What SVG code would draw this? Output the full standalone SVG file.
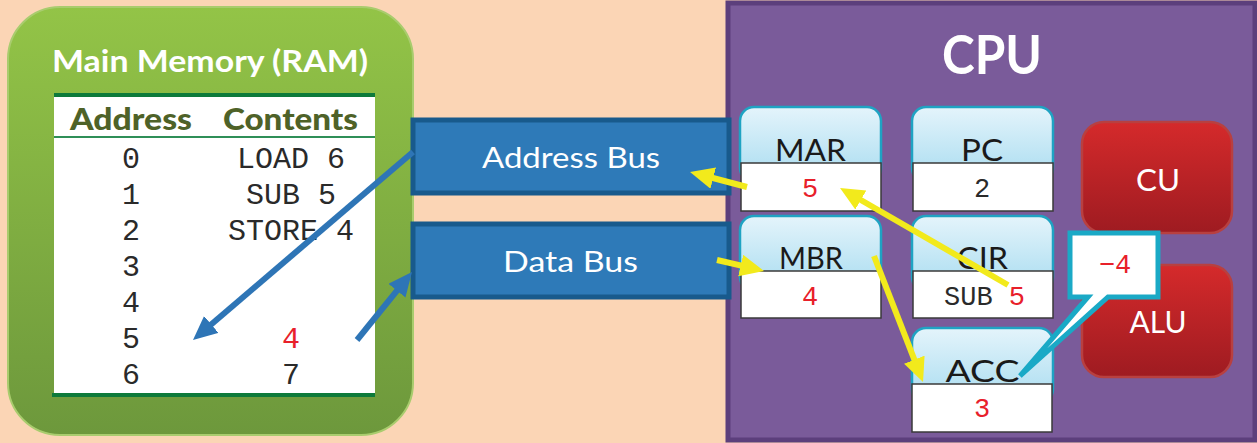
<svg xmlns="http://www.w3.org/2000/svg" width="1257" height="443" viewBox="0 0 1257 443">
<style>
.lbl{font-family:Lato,"Open Sans","Liberation Sans",sans-serif;text-anchor:middle}
.mono{font-family:"Liberation Mono","Courier New",monospace;text-anchor:middle}
.reg{font-family:Lato,"Open Sans","Liberation Sans",sans-serif;font-size:31px;fill:#1a1a1a;text-anchor:middle}
.val{font-family:"Liberation Mono","Courier New",monospace;font-size:27px;text-anchor:middle}
.red{fill:#e8202a}
.blk{fill:#2a2a2a}
.regtop{fill:url(#gBlue);stroke:#1fa3c3;stroke-width:2.5}
.regbox{fill:#fff;stroke:#3a3a3a;stroke-width:1.5}
.redbox{fill:url(#gRed);stroke:#b84040;stroke-width:2.5}
.bus{fill:#2e7ab8;stroke:#185a8c;stroke-width:5}
.ya{stroke:#f2ea1c;stroke-width:6;fill:none;marker-end:url(#aY)}
.ba{stroke:#2e75b6;stroke-width:6;fill:none;marker-end:url(#aB)}
</style>
<defs>
<linearGradient id="gGreen" x1="0" y1="0" x2="0" y2="1">
<stop offset="0" stop-color="#93c447"/><stop offset="1" stop-color="#6d983c"/>
</linearGradient>
<linearGradient id="gBlue" x1="0" y1="0" x2="0" y2="1">
<stop offset="0" stop-color="#e4f4fb"/><stop offset="1" stop-color="#a8dcf0"/>
</linearGradient>
<linearGradient id="gRed" x1="0" y1="0" x2="0" y2="1">
<stop offset="0" stop-color="#d52a2b"/><stop offset="1" stop-color="#9e1b21"/>
</linearGradient>
<marker id="aY" markerUnits="userSpaceOnUse" markerWidth="26" markerHeight="24" refX="14" refY="11" orient="auto">
<path d="M0,0 L24,11 L0,22 z" fill="#f2ea1c"/>
</marker>
<marker id="aB" markerUnits="userSpaceOnUse" markerWidth="26" markerHeight="24" refX="14" refY="11" orient="auto">
<path d="M0,0 L24,11 L0,22 z" fill="#2e75b6"/>
</marker>
</defs>
<rect x="0" y="0" width="1257" height="443" fill="#fbd5b5"/>

<g id="ram">
<rect x="8" y="7" width="405" height="428" rx="52" fill="url(#gGreen)" stroke="#a9cc6e" stroke-width="2"/>
<text class="lbl" x="210" y="72" font-size="30" font-weight="bold" fill="#fff" textLength="316" lengthAdjust="spacingAndGlyphs">Main Memory (RAM)</text>
<rect x="54" y="95" width="321" height="300" fill="#fff"/>
<line x1="54" y1="95" x2="375" y2="95" stroke="#0d7a3b" stroke-width="4"/>
<line x1="54" y1="137" x2="375" y2="137" stroke="#2f8f58" stroke-width="2"/>
<line x1="52" y1="395" x2="375" y2="395" stroke="#0d7a3b" stroke-width="4"/>
<text class="lbl" x="131" y="130" font-size="30" font-weight="900" fill="#4e6228" textLength="122" lengthAdjust="spacingAndGlyphs">Address</text>
<text class="lbl" x="290.5" y="130" font-size="30" font-weight="900" fill="#4e6228" textLength="135" lengthAdjust="spacingAndGlyphs">Contents</text>
<g class="mono blk" font-size="30">
<text x="131" y="168">0</text><text x="291" y="168">LOAD 6</text>
<text x="131" y="204">1</text><text x="291" y="204">SUB 5</text>
<text x="131" y="240">2</text><text x="291" y="240">STORE 4</text>
<text x="131" y="276">3</text>
<text x="131" y="312">4</text>
<text x="131" y="348">5</text><text x="291" y="348" class="red">4</text>
<text x="131" y="384">6</text><text x="291" y="384">7</text>
</g>
</g>

<g id="cpu">
<rect x="728" y="3" width="527" height="437" fill="#7a5b9a" stroke="#5c3f7c" stroke-width="5"/>
<text class="lbl" x="992" y="74" font-size="54" font-weight="bold" fill="#fff" textLength="100" lengthAdjust="spacingAndGlyphs">CPU</text>
</g>

<g id="address-bus">
<rect class="bus" x="413" y="120" width="316" height="73"/>
<text class="lbl" x="571" y="168" font-size="29" fill="#fff" textLength="178" lengthAdjust="spacingAndGlyphs">Address Bus</text>
</g>
<g id="data-bus">
<rect class="bus" x="413" y="224" width="316" height="73"/>
<text class="lbl" x="570.5" y="272" font-size="29" fill="#fff" textLength="135" lengthAdjust="spacingAndGlyphs">Data Bus</text>
</g>

<g id="mar">
<rect class="regtop" x="740" y="107" width="141" height="75" rx="14"/>
<rect class="regbox" x="741" y="163" width="140" height="48"/>
<text class="reg" x="810.5" y="161" textLength="71" lengthAdjust="spacingAndGlyphs">MAR</text>
<text class="val red" x="810" y="197">5</text>
</g>
<g id="pc">
<rect class="regtop" x="912" y="107" width="141" height="75" rx="14"/>
<rect class="regbox" x="913" y="163" width="140" height="48"/>
<text class="reg" x="982" y="161" textLength="42" lengthAdjust="spacingAndGlyphs">PC</text>
<text class="val blk" x="982" y="197">2</text>
</g>
<g id="mbr">
<rect class="regtop" x="740" y="216" width="141" height="75" rx="14"/>
<rect class="regbox" x="741" y="271" width="140" height="47"/>
<text class="reg" x="811" y="269" textLength="64" lengthAdjust="spacingAndGlyphs">MBR</text>
<text class="val red" x="810" y="305">4</text>
</g>
<g id="cir">
<rect class="regtop" x="912" y="216" width="141" height="75" rx="14"/>
<rect class="regbox" x="913" y="271" width="140" height="47"/>
<text class="reg" x="982.5" y="269" textLength="51" lengthAdjust="spacingAndGlyphs">CIR</text>
<text class="val blk" x="944" y="305" style="text-anchor:start">SUB <tspan class="red">5</tspan></text>
</g>
<g id="acc">
<rect class="regtop" x="912" y="328" width="141" height="75" rx="14"/>
<rect class="regbox" x="912" y="384" width="140" height="48"/>
<text class="reg" x="982.5" y="382" textLength="74" lengthAdjust="spacingAndGlyphs">ACC</text>
<text class="val red" x="982" y="417">3</text>
</g>
<g id="cu">
<rect class="redbox" x="1082" y="122" width="150" height="111" rx="22"/>
<text class="lbl" x="1158" y="191" font-size="31" fill="#fff" textLength="44" lengthAdjust="spacingAndGlyphs">CU</text>
</g>
<g id="alu">
<rect class="redbox" x="1082" y="265" width="150" height="112" rx="22"/>
<text class="lbl" x="1158" y="333" font-size="31" fill="#fff" textLength="57" lengthAdjust="spacingAndGlyphs">ALU</text>
</g>

<g id="connectors">
<line class="ba" x1="413" y1="152" x2="200.6" y2="333.5"/>
<line class="ba" x1="357" y1="340" x2="405.7" y2="279.8"/>
<line class="ya" x1="747" y1="187" x2="699.7" y2="174.5"/>
<line class="ya" x1="1008" y1="285" x2="848.7" y2="193"/>
<line class="ya" x1="717" y1="260" x2="754.3" y2="268.7"/>
<line class="ya" x1="874" y1="256" x2="919.4" y2="372.7"/>
</g>

<g id="callout">
<path d="M1070,233 H1158 V297 H1108 L1020,376 L1088,297 H1070 Z" fill="#fff" stroke="#1aa9c6" stroke-width="5" stroke-linejoin="miter"/>
<text class="val red" x="1115" y="273">−4</text>
</g>
</svg>
